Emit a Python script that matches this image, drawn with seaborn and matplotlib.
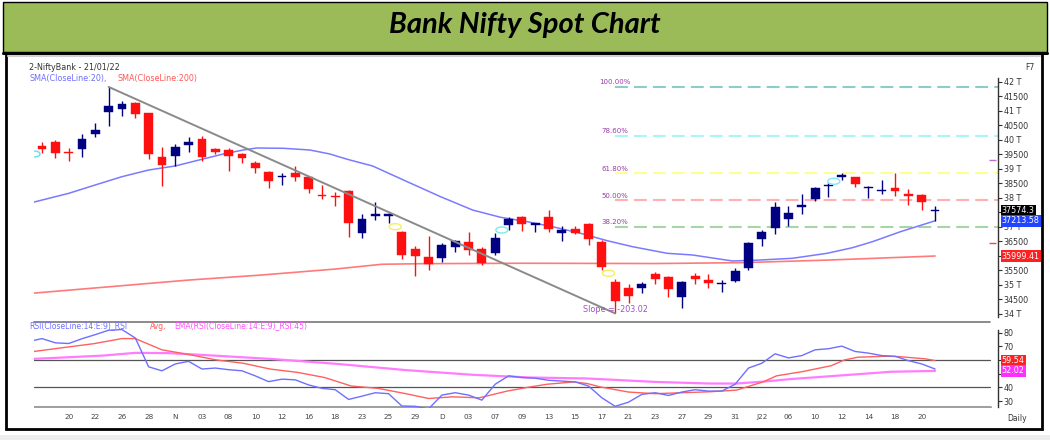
import numpy as np
import matplotlib
matplotlib.use("Agg")
import matplotlib.pyplot as plt
from matplotlib.path import Path
from matplotlib.patches import Rectangle
from matplotlib.lines import Line2D
import seaborn as sns

sns.set_style("white")
plt.rcParams['font.family'] = ['DejaVu Sans']

# ---- daily candles, 18 Oct 2021 .. 21 Jan 2022 ----
opens = [39790, 39930, 39590, 39680, 40207, 40976, 41080, 41265, 40920, 39415,
         39450, 39830, 40035, 39680, 39655, 39520, 39195, 38910, 38720, 38850,
         38715, 38110, 38060, 38240, 36805, 37400, 37400, 36840, 36230, 35965,
         35920, 36320, 36495, 36240, 36100, 37070, 37355, 37090, 37355, 36805,
         36930, 37095, 36485, 35115, 34885, 34885, 35370, 35285, 34600, 35310,
         35175, 35020, 35140, 35575, 36575, 36975, 37265, 37710, 37965, 38400,
         38750, 38715, 38340, 38245, 38335, 38150, 38115, 37550]
highs = [39930, 40000, 39735, 40200, 40575, 41830, 41355, 41300, 40940, 39750,
         39850, 40115, 40140, 39735, 39715, 39560, 39275, 38940, 38850, 39100,
         38760, 38440, 38200, 38275, 37440, 37875, 37495, 36875, 36345, 36690,
         36440, 36550, 36840, 36320, 36805, 37355, 37380, 37150, 37585, 37045,
         37045, 37130, 36550, 35210, 35035, 35105, 35460, 35320, 35140, 35425,
         35370, 35175, 35575, 36475, 36895, 37850, 37725, 38130, 38390, 38505,
         38850, 38735, 38425, 38620, 38850, 38310, 38150, 37735]
lows = [39560, 39380, 39290, 39425, 40115, 40493, 40840, 40750, 39335, 38415,
        39100, 39600, 39290, 39520, 38930, 39215, 38850, 38335, 38460, 38595,
        38185, 37965, 37725, 36645, 36620, 37240, 37130, 35900, 35320, 35530,
        35780, 36150, 36035, 35680, 36035, 36895, 36875, 36820, 36840, 36530,
        36750, 36380, 35520, 34020, 34390, 34715, 35035, 34575, 34220, 35025,
        34885, 34750, 35095, 35520, 36355, 36750, 37045, 37440, 37910, 38025,
        38620, 38370, 37990, 38140, 38080, 37760, 37585, 37220]
closes = [39700, 39550, 39560, 40045, 40335, 41183, 41240, 40885, 39530, 39150,
          39770, 39940, 39415, 39575, 39450, 39390, 39045, 38590, 38750, 38715,
          38320, 38080, 38030, 37130, 37285, 37430, 37430, 36035, 36000, 35735,
          36380, 36505, 36205, 35750, 36620, 37275, 37100, 37110, 36930, 36895,
          36805, 36575, 35635, 34460, 34620, 35025, 35210, 34860, 35095, 35210,
          35060, 35060, 35475, 36440, 36840, 37680, 37495, 37740, 38335, 38440,
          38770, 38485, 38370, 38260, 38240, 38070, 37875, 37574.3]

tick_labels = ["20", "22", "26", "28", "N", "03", "08", "10", "12", "16", "18",
               "23", "25", "29", "D", "03", "07", "09", "13", "15", "17", "21",
               "23", "27", "29", "31", "J22", "06", "10", "12", "14", "18", "20"]

# moving averages (bar index, value)
sma20_idx = [-0.6, 2, 4, 6, 8, 10, 12, 13.6, 15.1, 16.1, 18.1, 20.1, 21.6, 22.4,
             23.1, 24.8, 27.4, 29.9, 32.3, 34.4, 36.4, 38.3, 40.4, 42.4, 44.3,
             46.9, 48.8, 51.8, 53.9, 56.3, 58.9, 60.8, 62.3, 64.4, 67]
sma20 = [37860, 38160, 38450, 38735, 38965, 39105, 39335, 39517, 39655, 39724,
         39714, 39655, 39517, 39404, 39310, 39104, 38562, 38045, 37586, 37335,
         37183, 37010, 36783, 36528, 36321, 36093, 36035, 35828, 35862, 35921,
         36093, 36286, 36493, 36838, 37213.58]
sma200_idx = [-0.6, 11, 16.5, 22, 25.5, 28.5, 36, 46, 52.5, 59, 67]
sma200 = [34720, 35170, 35345, 35550, 35715, 35735, 35750, 35740, 35770, 35860,
          35999.41]

# trend line from the swing high to the swing low
trend_idx = [5, 43]
trend_price = [41830, 34020]

fib_levels = [100.0, 78.6, 61.8, 50.0, 38.2]
fib_prices = [41830, 40155, 38845, 37925, 37000]
fib_colors = ['#8ccccc', '#a8f6f6', '#ffff90', '#ffb0b0', '#a6d6a6']

mark_idx = [-0.6, 26.5, 34.5, 42.5, 59.4]
mark_price = [39517, 37010, 36897, 35404, 38576]
mark_colors = ['#60dff0', '#f0f060', '#80e8f0', '#f0f060', '#80e8f0']

# RSI panel
rsi = [75.6, 72.5, 72.0, 75.5, 78.5, 81.7, 82.2, 76.0, 55.0, 52.1,
       57.1, 59.0, 53.4, 54.1, 52.9, 52.1, 48.4, 44.2, 46.0, 45.5,
       41.8, 39.3, 38.3, 31.2, 33.6, 36.1, 35.4, 26.4, 26.2, 24.3,
       34.4, 36.1, 34.4, 30.7, 42.3, 48.4, 47.2, 46.7, 45.2, 44.6,
       44.0, 41.0, 32.4, 26.2, 29.2, 34.9, 36.1, 34.1, 36.6, 38.3,
       37.3, 37.3, 42.3, 54.1, 57.6, 64.5, 61.5, 63.2, 67.4, 68.2,
       70.1, 66.2, 65.0, 63.2, 62.7, 59.5, 57.1, 53.4]
rsi_first = 74.3
rsi_avg_idx = [-0.6, 1.9, 3.9, 6.0, 7.0, 9.0, 11.0, 13.1, 15.1, 17.1, 19.2, 21.2,
               23.2, 25.2, 27.3, 29.0, 30.8, 32.8, 34.9, 36.6, 37.9, 39.9, 40.9,
               41.9, 44.0, 46.0, 48.0, 50.1, 52.1, 54.1, 55.1, 57.1, 59.2, 60.2,
               61.2, 63.2, 64.2, 66.3, 67]
rsi_avg = [66.2, 69.4, 71.9, 75.6, 75.6, 67.4, 64.0, 60.0, 57.6, 53.4, 50.9, 47.2,
           41.0, 39.3, 35.4, 31.9, 33.1, 32.4, 37.3, 40.3, 42.3, 44.0, 42.8,
           40.3, 36.6, 35.4, 36.1, 36.8, 38.0, 44.0, 48.4, 51.6, 55.8, 60.0,
           62.0, 62.7, 62.5, 60.8, 59.54]
rsi_ema_idx = [-0.6, 4.6, 7.0, 9.5, 12.0, 17.1, 22.2, 27.3, 32.3, 36.6, 40.9,
               46.0, 50.1, 52.1, 54.1, 56.1, 60.2, 63.7, 67]
rsi_ema = [60.8, 63.2, 65.2, 65.0, 63.7, 60.8, 57.1, 52.6, 49.2, 47.2, 46.5,
           44.0, 42.8, 42.8, 44.2, 46.0, 48.9, 51.4, 52.02]

RED = '#ff1010'
NAVY = '#000080'
W, H = 1050, 440
XMIN, XMAX = -0.6, 71.72

fig = plt.figure(figsize=(10.5, 4.4), dpi=100)


def frect(x0, y0, x1, y1):
    return [x0 / W, 1 - y1 / H, (x1 - x0) / W, (y1 - y0) / H]


def fx(px):
    return px / W


def fy(py):
    return 1 - py / H


# title bar and frame
fig.patches.append(Rectangle((fx(3), fy(52)), 1044 / W, 50 / H, transform=fig.transFigure,
                             facecolor='#9bbb59', edgecolor='black', lw=1))
fig.patches.append(Rectangle((fx(6), fy(429)), 1036 / W, 376 / H, transform=fig.transFigure,
                             fill=False, edgecolor='black', lw=2))
fig.lines.append(Line2D([fx(3), fx(1047)], [fy(52.5)] * 2, transform=fig.transFigure,
                        color='black', lw=2.2))
fig.lines.append(Line2D([fx(8), fx(1040)], [fy(56)] * 2, transform=fig.transFigure,
                        color='#d0d0d0', lw=1.5))
fig.patches.append(Rectangle((0, 0), 1, 5 / H, transform=fig.transFigure,
                             facecolor='#eeeeee', edgecolor='none'))
fig.text(0.5, fy(25), "Bank Nifty Spot Chart", ha='center', va='center', fontsize=21,
         fontweight='bold', fontstyle='italic', family=['Lato', 'DejaVu Sans'], color='black')

# ---- price panel ----
ax = fig.add_axes(frect(34, 57, 998, 322))
ax.set_xlim(XMIN, XMAX)
ax.set_ylim(33724, 42862)
x = np.arange(len(opens))
o = np.array(opens, float)
c = np.array(closes, float)
colors = np.where(c >= o, NAVY, RED)
h = np.maximum(np.abs(c - o), 45)
mid = (o + c) / 2

for lvl, p, col in zip(fib_levels, fib_prices, fib_colors):
    ax.hlines(p, trend_idx[1], XMAX, colors=col, lw=1.5, linestyles=(0, (6.2, 2.9)), zorder=1)
    ax.annotate(f"{lvl:.2f}%", (trend_idx[1], p), xytext=(0, 1.2), textcoords='offset points',
                ha='center', va='bottom', fontsize=5, color='#9a3ca8', zorder=6)

sns.lineplot(x=sma200_idx, y=sma200, ax=ax, color='#ff7a7a', lw=1.2, zorder=2)
sns.lineplot(x=sma20_idx, y=sma20, ax=ax, color='#7a7aff', lw=1.1, zorder=2)

ax.vlines(x, lows, highs, colors=colors, lw=1.0, zorder=3)
ax.bar(x, h, bottom=mid - h / 2, width=0.66, color=colors, edgecolor=colors, lw=0.3, zorder=4)

sns.lineplot(x=trend_idx, y=trend_price, ax=ax, color='#8a8a8a', lw=1.4, zorder=5)
ax.text(trend_idx[1], 34140, "Slope = -203.02", ha='center', va='center', fontsize=5.8,
        color='#a050c0', zorder=6)

t = np.linspace(0, 2 * np.pi, 60)
ellipse = Path(np.column_stack([np.cos(t), 0.5 * np.sin(t)]))
ax.scatter(mark_idx, mark_price, marker=ellipse, s=75, facecolors='none',
           edgecolors=mark_colors, linewidths=1.0, zorder=6)
ax.scatter([71.3, 71.3], [39310, 36460], marker='_', s=30, c=['#c070c0', '#e05050'],
           linewidths=1, zorder=6)

for s in ['left', 'top', 'bottom']:
    ax.spines[s].set_visible(False)
ax.spines['right'].set_color('#333333')
ax.spines['right'].set_linewidth(1)
ax.spines['right'].set_bounds(33900, 42150)
ax.set_xticks([])
yt = np.arange(34000, 42001, 500)
ax.set_yticks(yt)
# 37500 and 36 T sit under the value boxes in the original
ax.set_yticklabels(["" if v in (37500, 36000) else (f"{v // 1000} T" if v % 1000 == 0 else f"{v}")
                    for v in yt])
ax.yaxis.tick_right()
ax.tick_params(axis='y', right=True, left=False, length=3, width=0.8, color='#333333',
               labelsize=5.8, labelcolor='#333333', pad=1)
ax.set_xlabel('')
ax.set_ylabel('')

ytr = ax.get_yaxis_transform()
for val, txt, bg in [(closes[-1], "37574.3", 'black'), (sma20[-1], "37213.58", '#2244ff'),
                     (sma200[-1], "35999.41", '#ff2020')]:
    ax.text(1.004, val, txt, transform=ytr, ha='left', va='center', fontsize=5.8, color='white',
            bbox=dict(boxstyle='square,pad=0.15', fc=bg, ec='none'), zorder=10, clip_on=False)

# ---- RSI panel ----
ax2 = fig.add_axes(frect(34, 322, 998, 408))
ax2.set_xlim(XMIN, XMAX)
ax2.set_ylim(24.96, 87.7)
for lv in [60, 40]:
    ax2.axhline(lv, xmax=0.992, color='#555555', lw=0.9, zorder=1)
ax2.axhline(87.4, xmax=0.992, color='#777777', lw=1.2, zorder=1, clip_on=False)
ax2.axhline(25.6, xmax=0.992, color='#a0a0a0', lw=2.2, zorder=1)
sns.lineplot(x=rsi_ema_idx, y=rsi_ema, ax=ax2, color='#ff7cff', lw=1.6, zorder=2)
sns.lineplot(x=rsi_avg_idx, y=rsi_avg, ax=ax2, color='#ff6060', lw=1.0, zorder=3)
sns.lineplot(x=[XMIN] + list(x), y=[rsi_first] + rsi, ax=ax2, color='#6f6fff', lw=1.0, zorder=4)

for s in ['left', 'top', 'bottom']:
    ax2.spines[s].set_visible(False)
ax2.spines['right'].set_color('#333333')
ax2.spines['right'].set_linewidth(1)
ax2.spines['right'].set_bounds(25.5, 82)
ax2.set_yticks([30, 40, 50, 60, 70, 80])
ax2.set_yticklabels(["30", "40", "50", "", "70", "80"])
ax2.yaxis.tick_right()
ax2.tick_params(axis='y', right=True, left=False, length=3, width=0.8, color='#333333',
                labelsize=5.8, labelcolor='#333333', pad=1)
ax2.set_xticks(np.arange(2, 67, 2))
ax2.set_xticklabels(tick_labels)
ax2.tick_params(axis='x', length=0, labelsize=5.2, labelcolor='#444444', pad=4)
ax2.set_xlabel('')
ax2.set_ylabel('')

ytr2 = ax2.get_yaxis_transform()
# RSI value box, almost hidden behind the EMA box
ax2.add_patch(Rectangle((1.004, rsi[-1] - 3.3), 0.025, 6.6, transform=ytr2, facecolor='#3030ff',
                        edgecolor='none', zorder=9, clip_on=False))
for val, txt, bg in [(rsi_avg[-1], "59.54", '#ff2020'), (rsi_ema[-1], "52.02", '#ff30ff')]:
    ax2.text(1.004, val, txt, transform=ytr2, ha='left', va='center', fontsize=5.8, color='white',
             bbox=dict(boxstyle='square,pad=0.15', fc=bg, ec='none'), zorder=10, clip_on=False)

# ---- header texts ----
fs = 5.8
fig.text(fx(29), fy(68), "2-NiftyBank - 21/01/22", fontsize=fs, color='#333333', va='center')
fig.text(fx(29), fy(78), "SMA(CloseLine:20),", fontsize=fs, color='#6f6fff', va='center')
fig.text(fx(118), fy(78), "SMA(CloseLine:200)", fontsize=fs, color='#ff5a5a', va='center')
fig.text(fx(29), fy(326), "RSI(CloseLine:14:E:9)_RSI", fontsize=5.5, color='#6f6fff', va='center')
fig.text(fx(150), fy(326), "Avg,", fontsize=5.5, color='#ff5a5a', va='center')
fig.text(fx(174), fy(326), "EMA(RSI(CloseLine:14:E:9)_RSI:45)", fontsize=5.5, color='#ff50ff',
         va='center')
fig.text(fx(1030), fy(68), "F7", fontsize=5.5, color='#333333', ha='center', va='center')
fig.text(fx(1017), fy(418), "Daily", fontsize=5.5, color='#333333', ha='center', va='center')

fig.savefig("out.png", dpi=100)
